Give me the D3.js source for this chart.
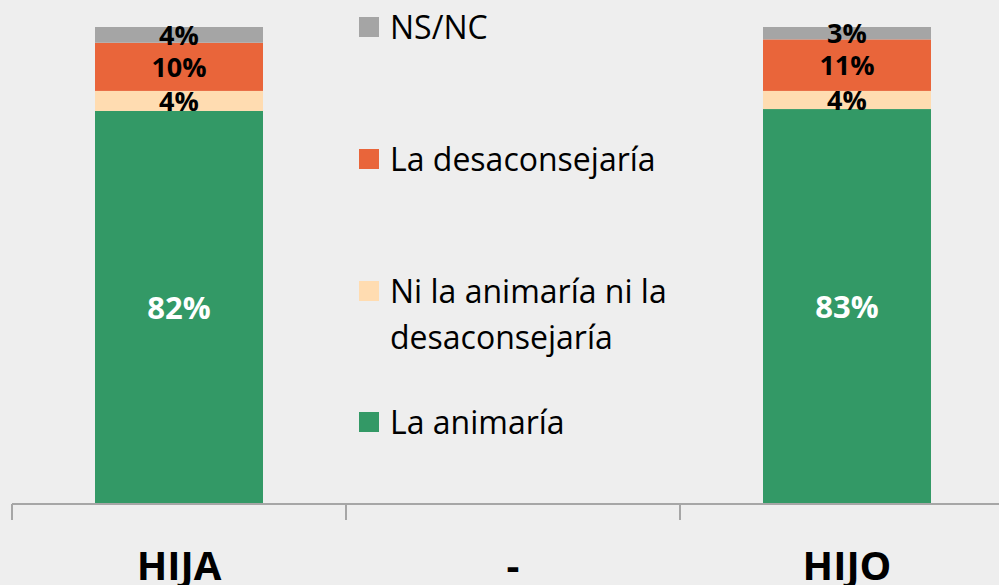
<!DOCTYPE html>
<html>
<head>
<meta charset="utf-8">
<script src="https://cdn.jsdelivr.net/npm/d3@7"></script>
<style>
  html, body { margin: 0; padding: 0; background: #eeeeee; }
  svg { display: block; }
</style>
</head>
<body>
<div id="chart"></div>
<script>
var width = 999, height = 585;

// categories on the x axis (the middle one is empty)
var categories = ["HIJA", "-", "HIJO"];
// series, bottom to top
var seriesNames = ["La animaría", "Ni la animaría ni la desaconsejaría", "La desaconsejaría", "NS/NC"];
var seriesColors = ["#339966", "#ffdcb1", "#e9653a", "#a5a5a5"];
// values (%)
var animaria      = [82.4, null, 82.8];
var niNi          = [4.2,  null, 3.8];
var desaconsejaria = [10.1, null, 10.8];
var nsnc          = [3.3,  null, 2.6];
// labels as printed in the chart
var labelAnimaria = ["82%", "", "83%"];
var labelNiNi = ["4%", "", "4%"];
var labelDesac = ["10%", "", "11%"];
var labelNsnc = ["4%", "", "3%"];

var allValues = [animaria, niNi, desaconsejaria, nsnc];
var allLabels = [labelAnimaria, labelNiNi, labelDesac, labelNsnc];

var rows = categories.map(function (c, i) {
    var r = { cat: c };
    seriesNames.forEach(function (s, k) { r[s] = allValues[k][i] || 0; });
    return r;
});

var stacked = d3.stack().keys(seriesNames)(rows);

var svg = d3.select("#chart").append("svg")
    .attr("width", width)
    .attr("height", height);

var x = d3.scaleBand()
    .domain(categories)
    .range([12, 1014])
    .paddingInner(0)
    .paddingOuter(0);

var y = d3.scaleLinear()
    .domain([0, 100])
    .range([504, 27]);

var barW = x.bandwidth() * 0.503;

var layers = svg.selectAll("g.layer")
    .data(stacked)
    .enter()
    .append("g")
    .attr("class", "layer")
    .attr("fill", function (d, i) { return seriesColors[i]; });

layers.selectAll("rect")
    .data(function (d) { return d; })
    .enter()
    .filter(function (d) { return d[1] - d[0] > 0; })
    .append("rect")
    .attr("x", function (d) { return x(d.data.cat) + (x.bandwidth() - barW) / 2; })
    .attr("y", function (d) { return y(d[1]); })
    .attr("width", barW)
    .attr("height", function (d) { return y(d[0]) - y(d[1]); });

// value labels
stacked.forEach(function (layer, k) {
    layer.forEach(function (d, i) {
        if (d[1] - d[0] <= 0) return;
        var big = k === 0;
        svg.append("text")
            .attr("x", x(d.data.cat) + x.bandwidth() / 2)
            .attr("y", (y(d[0]) + y(d[1])) / 2)
            .attr("dy", "0.36em")
            .attr("text-anchor", "middle")
            .attr("font-family", "'Open Sans', sans-serif")
            .attr("font-weight", "bold")
            .attr("font-size", big ? 31 : 27)
            .attr("fill", big ? "#ffffff" : "#000000")
            .text(allLabels[k][i]);
    });
});

// x axis
var axis = svg.append("g")
    .attr("transform", "translate(0,504)")
    .call(d3.axisBottom(x).tickSize(16).tickSizeOuter(0).tickFormat(""));
axis.select(".domain").attr("stroke", "#a6a6a6").attr("stroke-width", 2)
    .attr("d", "M12,0H1014");
axis.selectAll(".tick").remove();
var edges = categories.map(function (c) { return x(c); });
axis.selectAll("line.edge")
    .data(edges)
    .enter()
    .append("line")
    .attr("class", "edge")
    .attr("x1", function (d) { return d; })
    .attr("x2", function (d) { return d; })
    .attr("y1", 0)
    .attr("y2", 16)
    .attr("stroke", "#a6a6a6")
    .attr("stroke-width", 2);

svg.selectAll("text.cat")
    .data(categories)
    .enter()
    .append("text")
    .attr("class", "cat")
    .attr("x", function (d) { return x(d) + x.bandwidth() / 2; })
    .attr("y", 580)
    .attr("text-anchor", "middle")
    .attr("font-family", "'Open Sans', sans-serif")
    .attr("font-weight", "bold")
    .attr("font-size", 40)
    .attr("fill", "#000")
    .text(function (d) { return d; });

// legend, top to bottom
var legendItems = [
    { name: ["NS/NC"], color: seriesColors[3], top: 17 },
    { name: ["La desaconsejaría"], color: seriesColors[2], top: 149 },
    { name: ["Ni la animaría ni la", "desaconsejaría"], color: seriesColors[1], top: 281 },
    { name: ["La animaría"], color: seriesColors[0], top: 412 }
];

var leg = svg.selectAll("g.legend")
    .data(legendItems)
    .enter()
    .append("g")
    .attr("class", "legend")
    .attr("transform", function (d) { return "translate(359," + d.top + ")"; });

leg.append("rect")
    .attr("width", 20)
    .attr("height", 20)
    .attr("fill", function (d) { return d.color; });

leg.each(function (d) {
    var t = d3.select(this).append("text")
        .attr("x", 31)
        .attr("y", 22)
        .attr("font-family", "'Open Sans', sans-serif")
        .attr("font-size", 32)
        .attr("fill", "#000");
    d.name.forEach(function (line, j) {
        t.append("tspan").attr("x", 31).attr("dy", j === 0 ? 0 : 46).text(line);
    });
});
</script>
</body>
</html>
